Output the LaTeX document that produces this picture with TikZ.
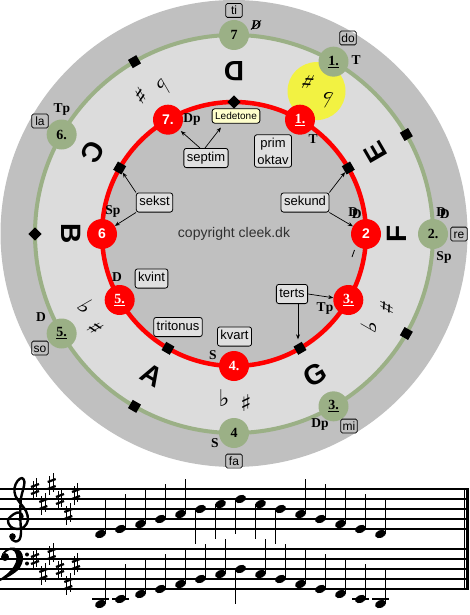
\documentclass[tikz,border=0pt]{standalone}
\usepackage{fontspec}
\setmainfont{Liberation Serif}
\setsansfont{Liberation Sans}
\newfontfamily\symf{DejaVu Sans}
\usetikzlibrary{arrows.meta,calc}
\definecolor{outerg}{HTML}{C0C0C0}
\definecolor{lightg}{HTML}{DCDCDC}
\definecolor{sage}{RGB}{155,176,134}
\definecolor{yel}{RGB}{242,242,66}
\definecolor{ledfill}{HTML}{FFFFCC}
\definecolor{boxfill}{HTML}{E0E0E0}
\definecolor{copyc}{HTML}{303030}
\newcommand\DDsym{\rlap{D}\raisebox{-2.5pt}{\kern3.5pt D}}
\newcommand\shp[2]{%
 \draw[line width=0.9pt] (#1-1.9,#2-8) -- (#1-1.9,#2+11);
 \draw[line width=0.9pt] (#1+1.9,#2-11) -- (#1+1.9,#2+8);
 \draw[line width=2.2pt] (#1-4,#2-2) -- (#1+4,#2-5);
 \draw[line width=2.2pt] (#1-4,#2+5) -- (#1+4,#2+2);}
\begin{document}
\begin{tikzpicture}[x=1pt,y=-1pt,
  gnode/.style={circle,fill=sage,minimum size=30pt,inner sep=0pt,font=\fontsize{14}{14}\selectfont\bfseries},
  rnode/.style={circle,fill=red,minimum size=30pt,inner sep=0pt,text=white,font=\fontsize{14}{14}\selectfont\bfseries},
  rnodesf/.style={rnode,font=\sffamily\fontsize{14}{14}\selectfont\bfseries},
  sqmark/.style={fill=black,minimum size=9.5pt,inner sep=0pt},
  fnlab/.style={font=\fontsize{13.5}{14}\selectfont\bfseries,inner sep=0pt},
  solf/.style={draw,line width=0.8pt,rounded corners=1.5pt,font=\sffamily\fontsize{12}{12}\selectfont,minimum width=16.5pt,inner xsep=1.5pt,inner ysep=2.5pt,text height=8.6pt,text depth=0.2pt},
  ivbase/.style={draw,fill=boxfill,line width=0.8pt,rounded corners=2.5pt,font=\sffamily\fontsize{13}{17}\selectfont,inner xsep=3pt,inner ysep=3.5pt},
  ivbox/.style={ivbase,text height=9.4pt,text depth=2.8pt},
  notename/.style={font=\sffamily\bfseries\fontsize{28}{28}\selectfont,inner sep=0pt},
  acc/.style={font=\symf\bfseries\fontsize{23}{23}\selectfont,inner sep=0pt},
  arr/.style={-{Stealth[length=5pt,width=4pt]},line width=0.7pt},
  staffline/.style={line width=1.3pt},
  notestem/.style={line width=1.1pt},
]
\useasboundingbox (0,0) rectangle (469,615);
\coordinate (O) at (234,234);
% discs
\fill[outerg] (234,233.5) circle (233.5);
\fill[lightg] (O) circle (199);
\fill[outerg] (O) circle (132);
\coordinate (yc) at ({234+165*cos(60)},{234-165*sin(60)});
\fill[yel] (yc) circle (29);
\draw[sage,line width=4pt] (O) circle (199);
\draw[red,line width=4.5pt] (O) circle (132);
% green ring marks
\foreach \a/\n in {30/gs30,-30/gsm30,-120/gsm120,120/gs120}
  \node[sqmark,rotate=\a] (\n) at ({234+199*cos(\a)},{234-199*sin(\a)}) {};
\node[sqmark,rotate=45] (gd180) at ({234+199*cos(180)},{234-199*sin(180)}) {};
% red ring marks
\foreach \a/\n in {30/rs30,-60/rsm60,-120/rsm120,150/rs150}
  \node[sqmark,rotate=\a] (\n) at ({234+132*cos(\a)},{234-132*sin(\a)}) {};
\node[sqmark,rotate=45] (rd90) at ({234+132*cos(90)},{234-132*sin(90)}) {};
% green nodes
\node[gnode] (g7) at ({234+199*cos(90)},{234-199*sin(90)}) {7};
\node[gnode] (g1) at ({234+199*cos(60)},{234-199*sin(60)}) {\underline{1.}};
\node[gnode] (g2) at ({234+199*cos(0)},{234-199*sin(0)}) {2.};
\node[gnode] (g3) at ({234+199*cos(-60)},{234-199*sin(-60)}) {\underline{3.}};
\node[gnode] (g4) at ({234+199*cos(-90)},{234-199*sin(-90)}) {4};
\node[gnode] (g5) at ({234+199*cos(-150)},{234-199*sin(-150)}) {\underline{5.}};
\node[gnode] (g6) at ({234+199*cos(150)},{234-199*sin(150)}) {6.};
% red nodes
\node[rnode] (r1) at ({234+132*cos(60)},{234-132*sin(60)}) {\underline{1.}};
\node[rnodesf] (r2) at ({234+132*cos(0)},{234-132*sin(0)}) {2};
\node[rnode] (r3) at ({234+132*cos(-30)},{234-132*sin(-30)}) {\underline{3.}};
\node[rnode] (r4) at ({234+132*cos(-90)},{234-132*sin(-90)}) {4.};
\node[rnode] (r5) at ({234+132*cos(-150)},{234-132*sin(-150)}) {\underline{5.}};
\node[rnodesf] (r6) at ({234+132*cos(180)},{234-132*sin(180)}) {6};
\node[rnodesf] (r7) at ({234+132*cos(120)},{234-132*sin(120)}) {7.};
% letters
\foreach \a/\L in {90/D,30/E,0/F,-60/G,-120/A,180/B,150/C}
  \node[notename,rotate=\a+90] (L\L) at ({234+163*cos(\a)},{234-163*sin(\a)}) {\L};
% accidentals
\node[acc,rotate=210] (s120) at (141,96) {♯};
\node[acc,rotate=210] (f120) at (163,87) {♭};
\node[acc,rotate=150] (s60) at (308,82) {♯};
\node[acc,rotate=150] (f60) at (327,99) {♭};
\node[acc,rotate=60] (s330) at (387,307) {♯};
\node[acc,rotate=60] (f330) at (370,326) {♭};
\node[acc] (f270) at (224,398) {♭};
\node[acc] (s270) at (246,403) {♯};
\node[acc,rotate=-60] (f210) at (86,307) {♭};
\node[acc,rotate=-60] (s210) at (96,328) {♯};
\draw[line width=0.8pt] (352,257) -- (354.5,250);
% function labels, green ring
\node[fnlab] (fg1) at (356,60) {T};
\node[fnlab] (fg7) at (256,25) {\itshape D};
\draw[line width=0.8pt] (fg7.south west) -- (fg7.north east);
\node[fnlab] (fg2a) at (443,213) {\DDsym};
\node[fnlab] (fg2b) at (444,257) {Sp};
\node[fnlab] (fg3) at (320,425) {Dp};
\node[fnlab] (fg4) at (215,443) {S};
\node[fnlab] (fg5) at (41,317) {D};
\node[fnlab] (fg6) at (62,110) {Tp};
% function labels, red ring
\node[fnlab] (fr1) at (313,139) {T};
\node[fnlab] (fr2) at (355,213) {\DDsym};
\node[fnlab] (fr3) at (325,309) {Tp};
\node[fnlab] (fr4) at (213,355) {S};
\node[fnlab] (fr5) at (117,277) {D};
\node[fnlab] (fr6) at (113,211) {Sp};
\node[fnlab] (fr7) at (192,120) {Dp};
% solfege
\node[solf] (sti) at (234,10.5) {ti};
\node[solf] (sdo) at (348,38) {do};
\node[solf] (sre) at (459,234) {re};
\node[solf] (smi) at (349,426) {mi};
\node[solf] (sfa) at (234,461) {fa};
\node[solf] (sso) at (40,348) {so};
\node[solf] (sla) at (40,121) {la};
% interval boxes
\node[ivbase,fill=ledfill,font=\sffamily\fontsize{10}{10}\selectfont,text height=7.3pt,text depth=0pt] (lede) at (236,116) {Ledetone};
\node[ivbox] (septim) at (206,158) {septim};
\node[ivbase,align=center,inner ysep=3pt] (prim) at (273,151) {prim\\oktav};
\node[ivbox] (sekund) at (305,202.5) {sekund};
\node[ivbox] (sekst) at (154.5,202.5) {sekst};
\node[ivbox] (kvint) at (151.5,278.5) {kvint};
\node[ivbox] (tritonus) at (178,327) {tritonus};
\node[ivbox] (kvart) at (234.5,336.5) {kvart};
\node[ivbox] (terts) at (292,294) {terts};
\node[font=\sffamily\fontsize{14}{14}\selectfont,text=copyc] (copy) at (234,234) {copyright cleek.dk};
% arrows
\draw[arr,shorten >=2pt] ([xshift=-6pt]septim.north) -- (r7);
\draw[arr,shorten >=5pt] ([xshift=-1pt]septim.north) -- ([xshift=-12pt]lede.south);
\draw[arr] (sekst.north west) -- (rs150);
\draw[arr] (sekst.south west) -- (r6);
\draw[arr] (sekund.north east) -- (rs30);
\draw[arr] (sekund.south east) -- (r2);
\draw[arr] (terts.east) -- (r3);
\draw[arr,shorten >=9pt] ([xshift=6pt]terts.south) -- ([xshift=6pt]terts.south |- rsm60.center);
% ---------- music ----------
\foreach \y in {489,499,509,519,529,549,559,569,579,589}
  \draw[staffline] (0,\y) -- (466,\y);
\draw[line width=1pt] (464.5,488.4) -- (464.5,589.6);
\fill (466,488.4) rectangle (469,589.6);
% treble clef
\draw[line width=2.4pt,line cap=round,line join=round] plot[smooth,tension=0.6] coordinates {(19.5,520) (22.5,516.5) (19.5,512.5) (14,514) (8,520) (10.5,526.5) (17,529) (24,527) (28,520) (26,511) (20.5,503.5) (15.5,496) (14.5,488) (17.5,481) (22,478) (24.5,482) (23,490) (21,498) (20.3,510) (20.5,522) (21,533) (19.5,539.5) (15.5,541.5) (11.5,539)};
\fill (12.5,536.5) circle (3.3);
% bass clef
\fill (5,557) circle (4);
\fill plot[smooth,tension=0.6] coordinates {(2,554) (7,549) (14,547.5) (21,551.5) (23,559) (19.5,568.5) (10,576) (0,581)}
  -- plot[smooth,tension=0.6] coordinates {(0,579) (8,573) (14,566) (16.5,558.5) (14.5,551.5) (9.5,550) (5,553)} -- cycle;
\fill (27,554.5) circle (2);
\fill (27,563.5) circle (2);
% key signatures
\foreach \x/\ty/\by in {35/489/559,43.3/504/574,51.7/484/554,60/499/569,68.3/514/584,76/494/564}
  {\shp{\x}{\ty}\shp{\x}{\by}}
% notes
\foreach \i/\s in {0/0,1/1,2/2,3/3,4/4,5/5,6/6,7/7,8/6,9/5,10/4,11/3,12/2,13/1,14/0} {
  \pgfmathsetmacro\nx{100.5+20*\i}
  \pgfmathsetmacro\ty{534-5*\s}
  \pgfmathsetmacro\by{604-5*\s}
  \ifnum\s<2 \draw[line width=1.5pt] (\nx-8.5,599) -- (\nx+8.5,599); \fi
  \fill[shift={(\nx,\ty)},rotate=22] (0,0) ellipse [x radius=5.7,y radius=3.9];
  \fill[shift={(\nx,\by)},rotate=22] (0,0) ellipse [x radius=5.7,y radius=3.9];
  \ifnum\s>4 \draw[notestem] (\nx-5.2,\ty) -- (\nx-5.2,\ty+35); \else \draw[notestem] (\nx+5.2,\ty) -- (\nx+5.2,\ty-35); \fi
  \ifnum\s=7 \draw[notestem] (\nx-5.2,\by) -- (\nx-5.2,\by+35); \else \draw[notestem] (\nx+5.2,\by) -- (\nx+5.2,\by-35); \fi
}
\end{tikzpicture}
\end{document}
